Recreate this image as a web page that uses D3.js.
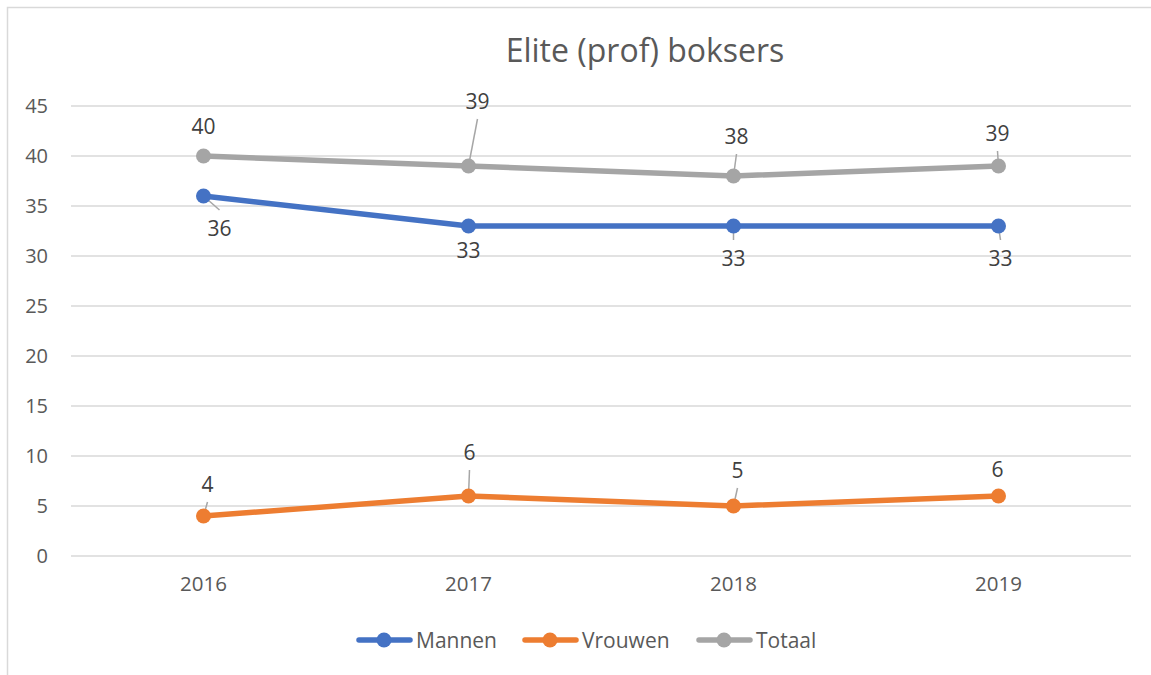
<!DOCTYPE html>
<html lang="nl">
<head>
<meta charset="UTF-8">
<title>Elite (prof) boksers</title>
<script src="https://d3js.org/d3.v7.min.js"></script>
<style>
  body { margin: 0; background: #fff; }
  svg { font-family: "Open Sans", sans-serif; }
</style>
</head>
<body>
<script>
// data
const years = ["2016", "2017", "2018", "2019"];
const mannen = [36, 33, 33, 33];
const vrouwen = [4, 6, 5, 6];
const totaal = [40, 39, 38, 39];
const yTicks = [0, 5, 10, 15, 20, 25, 30, 35, 40, 45];

// label placement per point: [dx, dy to baseline, leader?]
const labelPos = {
  Mannen: [[16, 40, 1], [0, 32, 0], [0, 40, 1], [2, 40, 1]],
  Vrouwen: [[4, -24, 1], [1, -36, 1], [4, -28, 1], [-1, -19, 0]],
  Totaal: [[0, -22, 0], [9, -57, 1], [3, -32, 1], [-1, -25, 1]]
};

const series = [
  { name: "Mannen", values: mannen, color: "#4472C4" },
  { name: "Vrouwen", values: vrouwen, color: "#ED7D31" },
  { name: "Totaal", values: totaal, color: "#A5A5A5" }
];

const width = 1151, height = 675;
const svg = d3.select("body").append("svg")
  .attr("width", width).attr("height", height);

// chart border
svg.append("rect")
  .attr("x", 7.5).attr("y", 7.5)
  .attr("width", width + 10).attr("height", height + 10)
  .attr("fill", "none").attr("stroke", "#d9d9d9").attr("stroke-width", 1.5);

const x = d3.scaleBand().domain(years).range([71, 1131]);
const y = d3.scaleLinear().domain([0, 45]).range([556, 106]);
const cx = d => x(d) + x.bandwidth() / 2;

// title
svg.append("text")
  .attr("x", 645).attr("y", 62)
  .attr("text-anchor", "middle")
  .attr("font-size", 32).attr("fill", "#595959")
  .text("Elite (prof) boksers");

// gridlines
svg.append("g").selectAll("line").data(yTicks).join("line")
  .attr("x1", 71).attr("x2", 1131)
  .attr("y1", d => y(d)).attr("y2", d => y(d))
  .attr("stroke", "#d9d9d9").attr("stroke-width", 1.5);

// y axis labels
const yAxis = svg.append("g")
  .attr("transform", "translate(60,0)")
  .call(d3.axisLeft(y).tickValues(yTicks).tickSize(0).tickPadding(12));
yAxis.select(".domain").remove();
yAxis.selectAll("text").attr("font-size", 20).attr("fill", "#595959")
  .attr("font-family", "Open Sans, sans-serif");

// x axis labels
const xAxis = svg.append("g")
  .attr("transform", "translate(0,556)")
  .call(d3.axisBottom(x).tickSize(0).tickPadding(20));
xAxis.select(".domain").remove();
xAxis.selectAll("text").attr("font-size", 20.5).attr("fill", "#595959")
  .attr("font-family", "Open Sans, sans-serif");

const line = d3.line()
  .x((d, i) => cx(years[i]))
  .y(d => y(d));

series.forEach(s => {
  const g = svg.append("g");
  // leader lines
  s.values.forEach((v, i) => {
    const [dx, dy, lead] = labelPos[s.name][i];
    if (!lead) return;
    const px = cx(years[i]), py = y(v);
    const ly = dy < 0 ? py + dy + 10 : py + dy - 26;
    g.append("line")
      .attr("x1", px + dx).attr("y1", ly)
      .attr("x2", px).attr("y2", py)
      .attr("stroke", "#a6a6a6").attr("stroke-width", 1.5);
  });
  g.append("path")
    .attr("d", line(s.values))
    .attr("fill", "none").attr("stroke", s.color)
    .attr("stroke-width", 5.5).attr("stroke-linejoin", "round").attr("stroke-linecap", "round");
  g.selectAll("circle").data(s.values).join("circle")
    .attr("cx", (d, i) => cx(years[i])).attr("cy", d => y(d))
    .attr("r", 7.5).attr("fill", s.color);
  g.selectAll("text").data(s.values).join("text")
    .attr("x", (d, i) => cx(years[i]) + labelPos[s.name][i][0])
    .attr("y", (d, i) => y(d) + labelPos[s.name][i][1])
    .attr("text-anchor", "middle")
    .attr("font-size", 21).attr("fill", "#404040")
    .text(d => d);
});

// legend
const legendX = [357, 523, 697];
const leg = svg.append("g");
series.forEach((s, i) => {
  const lx = legendX[i];
  leg.append("line")
    .attr("x1", lx + 2).attr("x2", lx + 53)
    .attr("y1", 640).attr("y2", 640)
    .attr("stroke", s.color).attr("stroke-width", 5.5).attr("stroke-linecap", "round");
  leg.append("circle").attr("cx", lx + 27).attr("cy", 640).attr("r", 7.5).attr("fill", s.color);
  leg.append("text")
    .attr("x", lx + 59).attr("y", 647.5)
    .attr("font-size", 21).attr("fill", "#595959")
    .text(s.name);
});
</script>
</body>
</html>
